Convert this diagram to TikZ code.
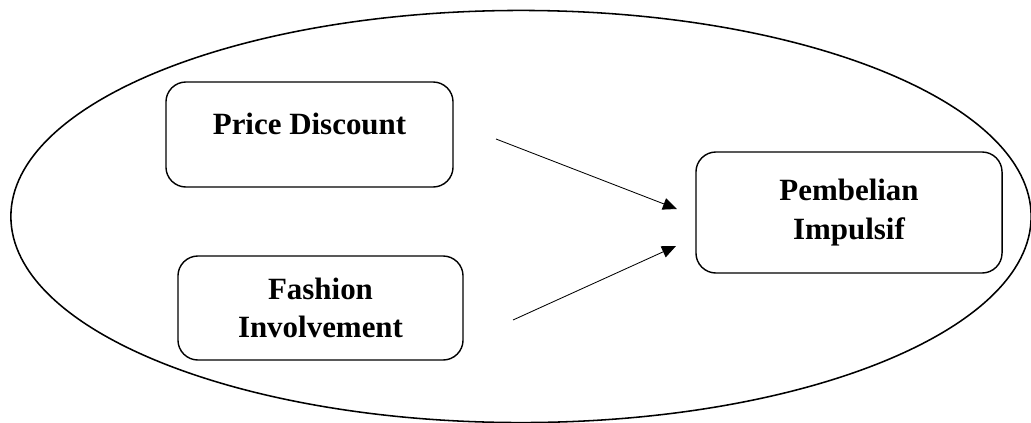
\documentclass[tikz,border=0pt]{standalone}
\usepackage{fontspec}
\setmainfont{Liberation Serif}
\usetikzlibrary{arrows.meta, positioning}

\begin{document}
\begin{tikzpicture}[x=0.025cm, y=-0.025cm,
    varbox/.style={draw, line width=1pt, rounded corners=0.5cm,
      font=\fontsize{22}{27.5}\selectfont\bfseries, align=center, inner sep=2pt},
    arrow/.style={-{Triangle[length=10pt, width=8.5pt]}, line width=0.6pt},
  ]
    \useasboundingbox (0,0) rectangle (1031,422);
    % outer ellipse
    \draw[line width=1.1pt] (521,216.5) ellipse [x radius=12.75cm, y radius=5.15cm];
    % variables
    \node[varbox, minimum width=7.175cm, minimum height=2.625cm, text depth=0.55cm] (pd) at (309.5,134.5) {Price Discount};
    \node[varbox, minimum width=7.125cm, minimum height=2.6cm] (fi) at (320.5,308) {Fashion\\Involvement};
    \node[varbox, minimum width=7.65cm, minimum height=3.025cm] (pi) at (849,212.5) {Pembelian\\Impulsif};
    % arrows
    \coordinate (pdout) at (496,139);
    \coordinate (fiout) at (513,320);
    \coordinate (piin1) at (677,209);
    \coordinate (piin2) at (676,246);
    \draw[arrow] (pdout) -- (piin1);
    \draw[arrow] (fiout) -- (piin2);
\end{tikzpicture}
\end{document}
